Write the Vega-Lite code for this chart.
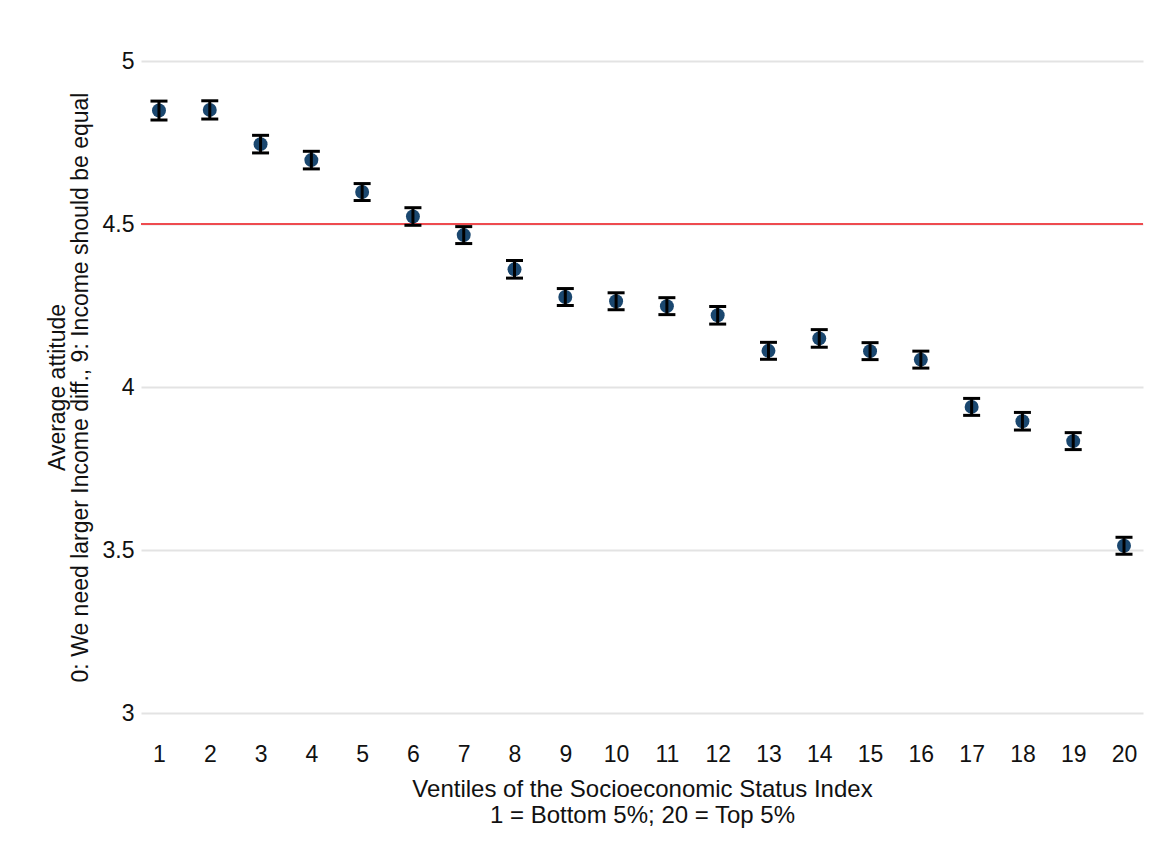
{
  "$schema": "https://vega.github.io/schema/vega-lite/v6.json",
  "width": 1002,
  "height": 652,
  "autosize": "none",
  "padding": {"left": 141, "top": 61, "right": 22, "bottom": 140},
  "background": "white",
  "config": {
    "view": {"stroke": null},
    "font": "Liberation Sans",
    "axis": {"labelFont": "Liberation Sans", "titleFont": "Liberation Sans", "labelColor": "#111111", "titleColor": "#111111", "titleFontWeight": "normal"}
  },
  "data": {
    "values": [
      {"ventile": 1, "mean": 4.848, "lo": 4.819, "hi": 4.877},
      {"ventile": 2, "mean": 4.850, "lo": 4.822, "hi": 4.878},
      {"ventile": 3, "mean": 4.745, "lo": 4.718, "hi": 4.772},
      {"ventile": 4, "mean": 4.696, "lo": 4.669, "hi": 4.723},
      {"ventile": 5, "mean": 4.598, "lo": 4.572, "hi": 4.624},
      {"ventile": 6, "mean": 4.523, "lo": 4.496, "hi": 4.550},
      {"ventile": 7, "mean": 4.466, "lo": 4.440, "hi": 4.492},
      {"ventile": 8, "mean": 4.361, "lo": 4.334, "hi": 4.388},
      {"ventile": 9, "mean": 4.276, "lo": 4.250, "hi": 4.302},
      {"ventile": 10, "mean": 4.263, "lo": 4.237, "hi": 4.289},
      {"ventile": 11, "mean": 4.248, "lo": 4.222, "hi": 4.274},
      {"ventile": 12, "mean": 4.220, "lo": 4.193, "hi": 4.247},
      {"ventile": 13, "mean": 4.111, "lo": 4.085, "hi": 4.137},
      {"ventile": 14, "mean": 4.149, "lo": 4.122, "hi": 4.176},
      {"ventile": 15, "mean": 4.110, "lo": 4.084, "hi": 4.136},
      {"ventile": 16, "mean": 4.084, "lo": 4.058, "hi": 4.110},
      {"ventile": 17, "mean": 3.939, "lo": 3.913, "hi": 3.965},
      {"ventile": 18, "mean": 3.895, "lo": 3.868, "hi": 3.922},
      {"ventile": 19, "mean": 3.834, "lo": 3.808, "hi": 3.860},
      {"ventile": 20, "mean": 3.513, "lo": 3.487, "hi": 3.539}
    ]
  },
  "encoding": {
    "x": {
      "field": "ventile",
      "type": "quantitative",
      "scale": {"domain": [0.646, 20.374], "nice": false, "zero": false},
      "axis": {
        "values": [1, 2, 3, 4, 5, 6, 7, 8, 9, 10, 11, 12, 13, 14, 15, 16, 17, 18, 19, 20],
        "grid": false,
        "domain": false,
        "ticks": false,
        "labelFontSize": 23,
        "labelPadding": 30,
        "title": ["Ventiles of the Socioeconomic Status Index", "1  = Bottom 5%; 20 = Top 5%"],
        "titleFontSize": 24,
        "titleLineHeight": 26,
        "titlePadding": 11
      }
    }
  },
  "layer": [
    {
      "mark": {"type": "rule", "color": "#ee4b4f", "strokeWidth": 2, "opacity": 1},
      "encoding": {"y": {"datum": 4.5, "type": "quantitative"}, "x": null}
    },
    {
      "mark": {"type": "point", "shape": "circle", "filled": true, "size": 195, "color": "#1a476f", "opacity": 1},
      "encoding": {
        "y": {
          "field": "mean",
          "type": "quantitative",
          "scale": {"domain": [3, 5], "nice": false, "zero": false},
          "axis": {
            "values": [3, 3.5, 4, 4.5, 5],
            "format": "~g",
            "grid": true,
            "gridColor": "#e3e3e3",
            "gridWidth": 2,
            "domain": false,
            "ticks": false,
            "labelFontSize": 23,
            "labelPadding": 7,
            "title": ["Average attitude", "0: We need larger Income diff., 9: Income should be equal"],
            "titleFontSize": 23,
            "titleLineHeight": 23,
            "titlePadding": 10
          }
        }
      }
    },
    {
      "mark": {"type": "rule", "color": "#000000", "strokeWidth": 3, "opacity": 1},
      "encoding": {
        "y": {"field": "lo", "type": "quantitative"},
        "y2": {"field": "hi"}
      }
    },
    {
      "mark": {"type": "tick", "orient": "horizontal", "color": "#000000", "size": 17, "thickness": 3, "opacity": 1},
      "encoding": {"y": {"field": "lo", "type": "quantitative"}}
    },
    {
      "mark": {"type": "tick", "orient": "horizontal", "color": "#000000", "size": 17, "thickness": 3, "opacity": 1},
      "encoding": {"y": {"field": "hi", "type": "quantitative"}}
    }
  ]
}
